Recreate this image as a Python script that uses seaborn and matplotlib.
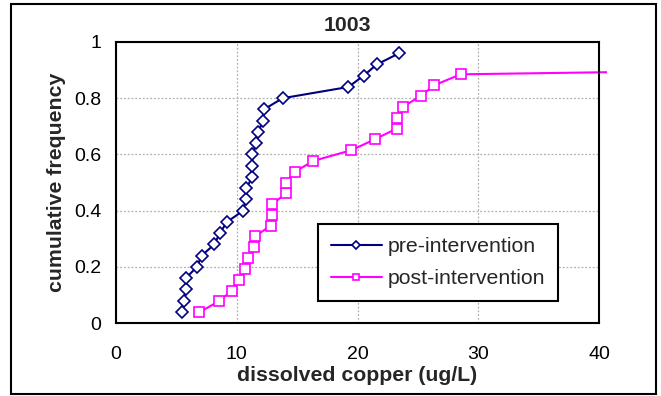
import numpy as np
import pandas as pd
import matplotlib
matplotlib.use("Agg")
import matplotlib.pyplot as plt
from matplotlib.lines import Line2D
from matplotlib.patches import Rectangle
import seaborn as sns

# ---- data ----
pre_copper = [5.5, 5.65, 5.8, 5.8, 6.7, 7.1, 8.15, 8.6, 9.2, 10.55, 10.75, 10.8,
              11.3, 11.3, 11.3, 11.6, 11.8, 12.15, 12.25, 13.8, 19.25, 20.5, 21.6, 23.45]
pre_freq = [0.04, 0.08, 0.12, 0.16, 0.20, 0.24, 0.28, 0.32, 0.36, 0.40, 0.44, 0.48,
            0.52, 0.56, 0.60, 0.64, 0.68, 0.72, 0.76, 0.80, 0.84, 0.88, 0.92, 0.96]

post_copper = [6.9, 8.5, 9.6, 10.2, 10.7, 10.9, 11.45, 11.5, 12.8, 12.9, 12.95, 14.1,
               14.1, 14.8, 16.35, 19.5, 21.45, 23.25, 23.3, 23.75, 25.25, 26.35, 28.55, 90.0]
post_freq = [0.038, 0.077, 0.115, 0.154, 0.192, 0.231, 0.269, 0.308, 0.346, 0.385, 0.423, 0.462,
             0.500, 0.538, 0.577, 0.615, 0.654, 0.692, 0.731, 0.769, 0.808, 0.846, 0.885, 0.923]

series_names = ["pre-intervention", "post-intervention"]
x_ticks = [0, 10, 20, 30, 40]
y_ticks = [0, 0.2, 0.4, 0.6, 0.8, 1.0]
y_tick_labels = ["0", "0.2", "0.4", "0.6", "0.8", "1"]
title = "1003"
x_label = "dissolved copper (ug/L)"
y_label = "cumulative frequency"

pre_df = pd.DataFrame({"copper": pre_copper, "freq": pre_freq})
post_df = pd.DataFrame({"copper": post_copper, "freq": post_freq})

sns.set_style("white")
plt.rcParams["font.family"] = ["Liberation Sans", "DejaVu Sans"]

NAVY = "#000080"
MAGENTA = "#FF00FF"
TICK_FS = 14
LABEL_FS = 15.3

fig = plt.figure(figsize=(6.61, 3.96), dpi=100)
ax = fig.add_axes([116 / 661, 1 - 323 / 396, 483 / 661, 281 / 396])

sns.lineplot(data=pre_df, x="copper", y="freq", ax=ax, sort=False, estimator=None,
             color=NAVY, linewidth=1.5, marker="D", markersize=6,
             markerfacecolor="white", markeredgecolor=NAVY, markeredgewidth=1.2)
n_post = len(post_copper)
sns.lineplot(data=post_df, x="copper", y="freq", ax=ax, sort=False, estimator=None,
             color=MAGENTA, linewidth=1.5, marker="s", markersize=7,
             markerfacecolor="white", markeredgecolor=MAGENTA, markeredgewidth=1.2,
             markevery=list(range(n_post - 1)))

# let the post line run slightly beyond the right edge, as in the reference
clip_rect = Rectangle((0, 0), 1.017, 1.0, transform=ax.transAxes, visible=False)
ax.add_patch(clip_rect)
ax.lines[-1].set_clip_path(clip_rect)

ax.set_xlim(0, 40)
ax.set_ylim(0, 1)
ax.set_xticks(x_ticks)
ax.set_yticks(y_ticks)
ax.set_yticklabels(y_tick_labels)

ax.grid(True, color="#b0b0b0", linestyle=(0, (1.5, 1.5)), linewidth=0.9)
ax.set_axisbelow(True)
for sp in ax.spines.values():
    sp.set_visible(True)
    sp.set_color("black")
    sp.set_linewidth(1.5)

ax.tick_params(axis="both", which="major", direction="out", length=4.5, width=1.5,
               color="black", labelsize=TICK_FS, labelcolor="black")
ax.tick_params(axis="x", pad=12)
ax.tick_params(axis="y", pad=6)

ax.set_title(title, fontsize=LABEL_FS, fontweight="bold", x=0.48, pad=8)
ax.set_xlabel(x_label, fontsize=LABEL_FS, fontweight="bold", labelpad=2)
ax.set_ylabel(y_label, fontsize=LABEL_FS, fontweight="bold", labelpad=6)

handles = [
    Line2D([], [], color=NAVY, linewidth=1.5, marker="D", markersize=4,
           markerfacecolor="white", markeredgecolor=NAVY, markeredgewidth=1.2),
    Line2D([], [], color=MAGENTA, linewidth=1.5, marker="s", markersize=5,
           markerfacecolor="white", markeredgecolor=MAGENTA, markeredgewidth=1.2),
]
leg = ax.legend(handles, series_names, loc="center", bbox_to_anchor=(0.667, 0.215),
                fontsize=LABEL_FS, frameon=True, fancybox=False, shadow=False,
                handlelength=2.4, handletextpad=0.3, borderpad=0.6, labelspacing=0.6,
                borderaxespad=0)
leg.get_frame().set_edgecolor("black")
leg.get_frame().set_linewidth(1.5)
leg.get_frame().set_facecolor("white")
leg.get_frame().set_alpha(1)

# outer chart border
fig.patches.append(Rectangle((11 / 661, 1 - 394 / 396), 645 / 661, 390 / 396,
                             transform=fig.transFigure, fill=False,
                             edgecolor="black", linewidth=1.5))

fig.savefig("out.png", dpi=100)
